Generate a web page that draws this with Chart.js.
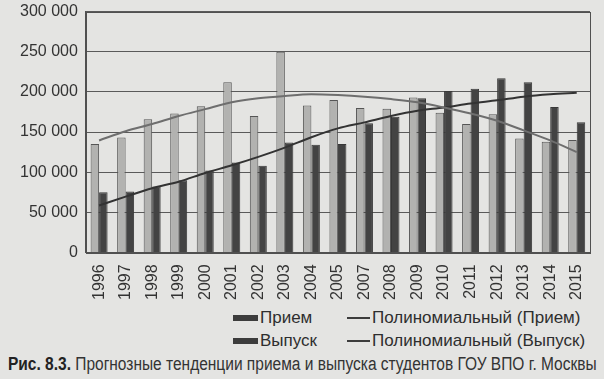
<!DOCTYPE html>
<html lang="ru">
<head>
<meta charset="utf-8">
<script src="https://cdn.jsdelivr.net/npm/chart.js@4.4.1/dist/chart.umd.min.js"></script>
<style>
  html, body { margin: 0; padding: 0; }
  body { width: 604px; height: 379px; background: #e4e4e2; position: relative; overflow: hidden;
         font-family: "Liberation Sans", Arial, sans-serif; color: #2e2e2e; }
  #wrap { position: absolute; left: 0; top: -6px; width: 604px; height: 314px; }
  .leg { position: absolute; font-size: 17px; line-height: 20px; white-space: nowrap; }
  .box { position: absolute; width: 25px; height: 6px; background: #3c3c3c; }
  .ln { position: absolute; width: 23px; height: 2px; background: #3c3c3c; }
  #caption { position: absolute; left: 8px; top: 354px; font-size: 18px; white-space: nowrap;
             transform-origin: 0 0; color: #333; }
  #caption b { color: #222; }
</style>
</head>
<body>
<div id="wrap"><canvas id="chart"></canvas></div>

<div class="box" style="left:233px; top:315px;"></div>
<div class="leg" style="left:260px; top:308px;">Прием</div>
<div class="ln" style="left:347px; top:317px;"></div>
<div class="leg" style="left:372px; top:308px;">Полиномиальный (Прием)</div>

<div class="box" style="left:233px; top:338px;"></div>
<div class="leg" style="left:260px; top:331px;">Выпуск</div>
<div class="ln" style="left:347px; top:340px;"></div>
<div class="leg" style="left:372px; top:331px;">Полиномиальный (Выпуск)</div>

<div id="caption"><b>Рис. 8.3.</b> Прогнозные тенденции приема и выпуска студентов ГОУ ВПО г. Москвы</div>

<script>
// годы (2006 в исходнике пропущен)
const years = ["1996", "1997", "1998", "1999", "2000", "2001", "2002", "2003", "2004", "2005",
               "2007", "2008", "2009", "2010", "2011", "2012", "2013", "2014", "2015"];

// прием и выпуск, чел.
const priem  = [135000, 143000, 166000, 173000, 182000, 212000, 170000, 250000, 183000, 190000,
                180000, 179000, 193000, 174000, 160000, 172000, 142000, 138000, 140000];
const vypusk = [75000, 76000, 82000, 90000, 102000, 112000, 108000, 137000, 134000, 135000,
                161000, 169000, 192000, 201000, 204000, 217000, 212000, 181000, 162000];

// линии тренда
const trendPriem  = [139500, 151000, 160000, 170000, 178500, 187000, 192000, 195000, 197000, 196000,
                     194000, 191000, 187000, 180500, 173000, 164000, 152000, 139500, 125000];
const trendVypusk = [58500, 69500, 80000, 88000, 99000, 108500, 119000, 130500, 143500, 154500,
                     162000, 170000, 176500, 180500, 185500, 189500, 194000, 197000, 199000];

const yTicks = [0, 50000, 100000, 150000, 200000, 250000, 300000];

// подпись сжимаем по ширине, как в книге
const cap = document.getElementById("caption");
cap.style.transform = "scaleX(" + (589 / cap.scrollWidth) + ")";

// рамка области построения
const frame = {
  id: "frame",
  afterDraw(chart) {
    const { ctx, chartArea: a } = chart;
    ctx.save();
    ctx.strokeStyle = "#505050";
    ctx.lineWidth = 1;
    ctx.strokeRect(Math.round(a.left) + 0.5, Math.round(a.top) + 0.5,
                   Math.round(a.right - a.left), Math.round(a.bottom - a.top));
    ctx.restore();
  }
};

const tickFont = { family: "Liberation Sans", size: 16 };

new Chart(document.getElementById("chart"), {
  data: {
    labels: years,
    datasets: [
      { type: "line", label: "Полиномиальный (Прием)", data: trendPriem, borderColor: "#6e6e6e",
        borderWidth: 2, pointRadius: 0, tension: 0.4, cubicInterpolationMode: "monotone", order: 0 },
      { type: "line", label: "Полиномиальный (Выпуск)", data: trendVypusk, borderColor: "#333333",
        borderWidth: 2, pointRadius: 0, tension: 0.4, cubicInterpolationMode: "monotone", order: 0 },
      { type: "bar", label: "Прием", data: priem, backgroundColor: "#b2b2b0", borderColor: "#555",
        borderWidth: 1, categoryPercentage: 0.64, barPercentage: 1.0, order: 1 },
      { type: "bar", label: "Выпуск", data: vypusk, backgroundColor: "#434343", borderColor: "#383838",
        borderWidth: 1, categoryPercentage: 0.64, barPercentage: 1.0, order: 1 }
    ]
  },
  options: {
    responsive: true,
    maintainAspectRatio: false,
    animation: false,
    layout: { padding: { left: 12, right: 14, top: 2, bottom: 4 } },
    plugins: { legend: { display: false }, tooltip: { enabled: false } },
    scales: {
      x: {
        grid: { display: false },
        border: { color: "#505050" },
        ticks: { color: "#333", font: tickFont, minRotation: 90, maxRotation: 90, padding: 4, autoSkip: false }
      },
      y: {
        min: 0, max: 300000,
        afterBuildTicks: axis => { axis.ticks = yTicks.map(v => ({ value: v })); },
        grid: { color: "#5a5a5a", lineWidth: 1, drawTicks: false },
        border: { color: "#505050" },
        ticks: { color: "#333", font: tickFont, padding: 8,
                 callback: v => v === 0 ? "0" : String(v).replace(/\B(?=(\d{3})+(?!\d))/g, " ") }
      }
    }
  },
  plugins: [frame]
});
</script>
</body>
</html>
